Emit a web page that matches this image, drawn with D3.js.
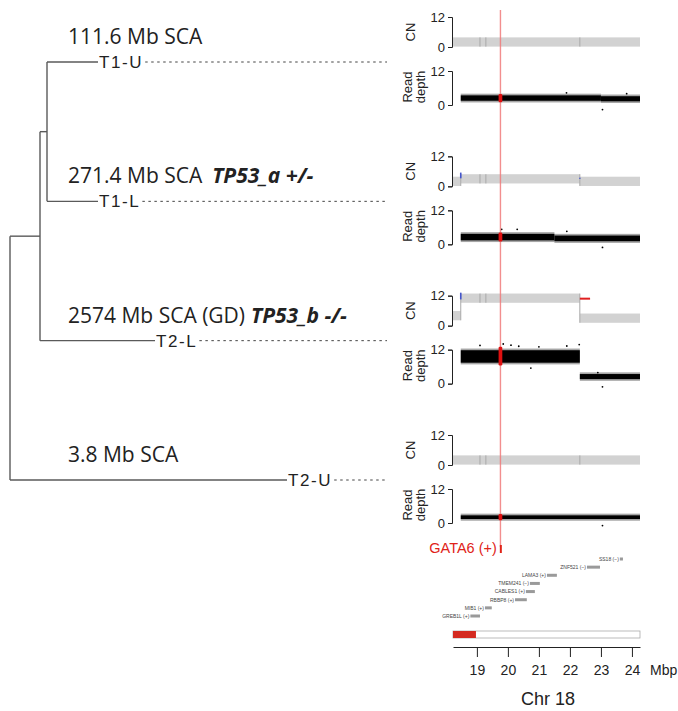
<!DOCTYPE html>
<html><head><meta charset="utf-8">
<script src="https://cdn.jsdelivr.net/npm/d3@7"></script>
<style>body{margin:0;background:#fff} svg{display:block}</style>
</head><body>
<svg id="c" width="678" height="711"></svg>
<script>
// ---------------- data ----------------
const samples = ["T1-U", "T1-L", "T2-L", "T2-U"];
const scaLabels = ["111.6 Mb SCA", "271.4 Mb SCA", "2574 Mb SCA (GD)", "3.8 Mb SCA"];
const tp53Labels = ["", "TP53_a +/-", "TP53_b -/-", ""];
// phylogeny with branch lengths
const tree = {name: "root", len: 0, children: [
  {name: "B", len: 30, children: [
    {name: "A", len: 7, children: [{name: "T1-U", len: 51}, {name: "T1-L", len: 51}]},
    {name: "T2-L", len: 115}]},
  {name: "T2-U", len: 277}]};

const genomeDomain = [18.23, 24.26];     // Mb shown
const axisTicks = [19, 20, 21, 22, 23, 24];
const cnTicks = [0, 12];
const rdTicks = [0, 12];
// copy-number segments per sample: [start, end, CN]
const cnSegments = [
  [[18.23, 19.10, 2], [19.10, 19.29, 2], [19.29, 22.32, 2], [22.32, 24.26, 2]],
  [[18.23, 18.48, 2], [18.48, 19.10, 3], [19.10, 19.29, 3], [19.29, 22.32, 3], [22.32, 24.26, 2]],
  [[18.23, 18.48, 4], [18.48, 19.10, 11], [19.10, 19.29, 11], [19.29, 22.32, 11], [22.32, 24.26, 3]],
  [[18.23, 19.10, 2], [19.10, 19.29, 2], [19.29, 22.32, 2], [22.32, 24.26, 2]]
];
// breakpoint marks: [sample, pos, cnLow, cnHigh, colour]
const cnMarksV = [[1, 18.48, 3.2, 5.5, "#4455cc"], [1, 22.32, 3.0, 3.4, "#4455cc"], [2, 18.48, 10.5, 13.2, "#4455cc"]];
const cnMarksH = [[2, 22.32, 22.65, 10.8, "#e02020"]];
// read depth bands: [start, end, low, high]
const rdBands = [
  [[18.48, 23.0, 1.5, 3.4], [23.0, 24.26, 1.3, 3.1]],
  [[18.48, 21.5, 1.4, 3.7], [21.5, 24.26, 1.1, 3.1]],
  [[18.48, 22.32, 7.4, 11.8], [22.32, 24.26, 1.6, 3.4]],
  [[18.48, 24.26, 1.4, 2.7]]
];
const rdOutliers = [
  [[21.89, 4.3], [23.83, 4.0], [23.05, -1.6]],
  [[19.80, 5.3], [20.30, 5.3], [21.90, 4.6], [23.05, -1.1]],
  [[19.10, 13.5], [19.85, 14.0], [20.10, 13.6], [20.35, 13.2], [21.00, 13.0], [21.90, 13.3], [22.30, 13.8], [20.74, 5.5], [23.05, -1.1], [22.90, 3.9]],
  [[23.05, -0.9]]
];
const gataPos = [19.74, 19.79];
const gataRDspan = [19.70, 19.82];
const rdGata = [[1.0, 3.9], [1.0, 4.2], [6.4, 13.0], [1.0, 3.2]];
const genes = [
  {name: "GREB1L (+)", start: 18.79, end: 19.10},
  {name: "MIB1 (+)", start: 19.26, end: 19.48},
  {name: "RBBP8 (+)", start: 20.23, end: 20.61},
  {name: "CABLES1 (+)", start: 20.58, end: 20.87},
  {name: "TMEM241 (−)", start: 20.71, end: 21.03},
  {name: "LAMA3 (+)", start: 21.26, end: 21.58},
  {name: "ZNF521 (−)", start: 22.55, end: 22.97},
  {name: "SS18 (−)", start: 23.61, end: 23.71}
];
const ideoHighlight = [18.23, 18.97];

// ---------------- drawing ----------------
const svg = d3.select("#c");
const SANS = "'Liberation Sans', Arial, sans-serif";
const TREEF = "'Open Sans', 'Noto Sans', sans-serif";

const x = d3.scaleLinear().domain(genomeDomain).range([453, 640]);
const panelY = d3.scalePoint().domain(samples).range([17, 435]);
const layerPanels = svg.append("g");
const layerLine = svg.append("g");
const layerRed = svg.append("g");

// red GATA6 guide line (above the CN bands)
layerLine.append("line").attr("x1", x(19.76)).attr("x2", x(19.76)).attr("y1", 10).attr("y2", 547)
  .attr("stroke", "#f07a7a").attr("stroke-opacity", 0.85).attr("stroke-width", 1.4);

samples.forEach((s, i) => {
  const T = panelY(s);
  const yCN = d3.scaleLinear().domain([0, 12]).range([T + 30, T]);
  const yRD = d3.scaleLinear().domain([0, 12]).range([T + 88, T + 54]);
  const g = layerPanels.append("g");

  // CN segments
  const segs = cnSegments[i];
  g.selectAll("rect.cn").data(segs).join("rect")
    .attr("x", d => x(d[0])).attr("width", d => x(d[1]) - x(d[0]))
    .attr("y", d => yCN(d[2] + 1.85)).attr("height", d => yCN(d[2] - 1.85) - yCN(d[2] + 1.85))
    .attr("fill", "#d2d2d2");
  segs.slice(1).forEach((d, k) => {
    const prev = segs[k];
    const lo = Math.min(prev[2], d[2]) - 1.85, hi = Math.max(prev[2], d[2]) + 1.85;
    g.append("line").attr("x1", x(d[0])).attr("x2", x(d[0]))
      .attr("y1", yCN(hi)).attr("y2", yCN(lo)).attr("stroke", "#a8a8a8").attr("stroke-width", 1);
  });
  cnMarksV.filter(m => m[0] === i).forEach(m => {
    g.append("line").attr("x1", x(m[1])).attr("x2", x(m[1])).attr("y1", yCN(m[3])).attr("y2", yCN(m[2]))
      .attr("stroke", m[4]).attr("stroke-width", 1.6);
  });
  cnMarksH.filter(m => m[0] === i).forEach(m => {
    g.append("line").attr("x1", x(m[1])).attr("x2", x(m[2])).attr("y1", yCN(m[3])).attr("y2", yCN(m[3]))
      .attr("stroke", m[4]).attr("stroke-width", 2);
  });

  // read depth: soft fringe + dense core
  g.selectAll("rect.rdf").data(rdBands[i]).join("rect")
    .attr("x", d => x(d[0])).attr("width", d => x(d[1]) - x(d[0]))
    .attr("y", d => yRD(d[3] + 0.6)).attr("height", d => yRD(d[2] - 0.6) - yRD(d[3] + 0.6))
    .attr("fill", "#000").attr("fill-opacity", 0.35);
  g.selectAll("rect.rd").data(rdBands[i]).join("rect")
    .attr("x", d => x(d[0])).attr("width", d => x(d[1]) - x(d[0]))
    .attr("y", d => yRD(d[3])).attr("height", d => yRD(d[2]) - yRD(d[3]))
    .attr("fill", "#000");
  g.selectAll("circle.o").data(rdOutliers[i]).join("circle")
    .attr("cx", d => x(d[0])).attr("cy", d => yRD(d[1])).attr("r", 0.9).attr("fill", "#000");
  layerRed.append("rect").attr("x", x(gataRDspan[0])).attr("width", x(gataRDspan[1]) - x(gataRDspan[0]))
    .attr("y", yRD(rdGata[i][1])).attr("height", yRD(rdGata[i][0]) - yRD(rdGata[i][1]))
    .attr("rx", 1.2).attr("fill", "#e01010");

  // axes (bracket style)
  const axCN = g.append("g").attr("transform", "translate(452,0)")
    .call(d3.axisLeft(yCN).tickValues(cnTicks).tickSize(4).tickPadding(3));
  const axRD = g.append("g").attr("transform", "translate(452,0)")
    .call(d3.axisLeft(yRD).tickValues(rdTicks).tickSize(4).tickPadding(3));
  [axCN, axRD].forEach(a => {
    a.selectAll("text").attr("font-family", SANS).attr("font-size", 13).attr("fill", "#222");
    a.select(".domain").attr("stroke", "#222");
    a.selectAll(".tick line").attr("stroke", "#222");
  });

  g.append("text").attr("transform", `translate(415,${T + 15}) rotate(-90)`)
    .attr("text-anchor", "middle").attr("font-family", SANS).attr("font-size", 13).attr("fill", "#222").text("CN");
  g.append("text").attr("transform", `translate(412,${T + 70}) rotate(-90)`)
    .attr("text-anchor", "middle").attr("font-family", SANS).attr("font-size", 13).attr("fill", "#222").text("Read");
  g.append("text").attr("transform", `translate(425,${T + 70}) rotate(-90)`)
    .attr("text-anchor", "middle").attr("font-family", SANS).attr("font-size", 13).attr("fill", "#222").text("depth");
});

// ---------------- tree ----------------
const root = d3.hierarchy(tree);
root.each(n => { n.dist = (n.parent ? n.parent.dist : 0) + n.data.len; });
const maxDist = d3.max(root.leaves(), l => l.dist);
const xt = d3.scaleLinear().domain([0, maxDist]).range([10, 287]);
root.eachAfter(n => {
  n.py = n.children ? (n.children[0].py + n.children[n.children.length - 1].py) / 2 : panelY(n.data.name) + 45;
});
const tg = svg.append("g").attr("stroke", "#5a5a5a").attr("stroke-width", 1.4).attr("fill", "none");
root.descendants().forEach(n => {
  if (n.children) {
    tg.append("line").attr("x1", xt(n.dist)).attr("x2", xt(n.dist))
      .attr("y1", n.children[0].py).attr("y2", n.children[n.children.length - 1].py);
  }
  if (n.parent) {
    tg.append("line").attr("x1", xt(n.parent.dist)).attr("x2", xt(n.dist)).attr("y1", n.py).attr("y2", n.py);
  }
});
root.leaves().forEach(l => {
  const i = samples.indexOf(l.data.name);
  const lx = xt(l.dist);
  const t = svg.append("text").attr("x", lx + 1).attr("y", l.py + 6)
    .attr("font-family", SANS).attr("font-size", 17).attr("letter-spacing", 1.6).attr("fill", "#222")
    .text(l.data.name);
  const w = t.node().getComputedTextLength();
  svg.append("line").attr("x1", lx + 3 + w).attr("x2", 387).attr("y1", l.py).attr("y2", l.py)
    .attr("stroke", "#444").attr("stroke-width", 1).attr("stroke-dasharray", "2.5,3.5");
  const h = svg.append("text").attr("x", 68).attr("y", l.py - 18)
    .attr("font-family", TREEF).attr("font-size", 21).attr("fill", "#222");
  h.append("tspan").text(scaLabels[i]);
  if (tp53Labels[i]) {
    h.append("tspan").attr("dx", i === 1 ? 10 : 6).attr("font-weight", "bold").attr("font-style", "italic")
      .text(tp53Labels[i]);
  }
});

// ---------------- gene track ----------------
svg.append("text").attr("x", x(gataPos[0]) - 3).attr("y", 553).attr("text-anchor", "end")
  .attr("font-family", SANS).attr("font-size", 14.5).attr("fill", "#e02318").text("GATA6 (+)");
svg.append("rect").attr("x", x(gataPos[0])).attr("width", Math.max(2, x(gataPos[1]) - x(gataPos[0])))
  .attr("y", 545).attr("height", 8).attr("fill", "#e02318");
const geneY = d3.scalePoint().domain(genes.map(d => d.name)).range([616, 559]);
genes.forEach(d => {
  const y = geneY(d.name);
  svg.append("rect").attr("x", x(d.start)).attr("width", x(d.end) - x(d.start))
    .attr("y", y - 1.5).attr("height", 3).attr("fill", "#9a9a9a");
  svg.append("text").attr("x", x(d.start) - 1).attr("y", y + 1.8).attr("text-anchor", "end")
    .attr("font-family", SANS).attr("font-size", 5).attr("fill", "#444").text(d.name);
});
// ideogram
svg.append("rect").attr("x", x(genomeDomain[0])).attr("width", x(genomeDomain[1]) - x(genomeDomain[0]))
  .attr("y", 631).attr("height", 7).attr("fill", "#fff").attr("stroke", "#aaa").attr("stroke-width", 0.8);
svg.append("rect").attr("x", x(ideoHighlight[0])).attr("width", x(ideoHighlight[1]) - x(ideoHighlight[0]))
  .attr("y", 631).attr("height", 7).attr("fill", "#d42a20");

// genomic axis
const ax = svg.append("g").attr("transform", "translate(0,647)")
  .call(d3.axisBottom(x).tickValues(axisTicks).tickSize(10).tickSizeOuter(0).tickPadding(8).tickFormat(d3.format("d")));
ax.selectAll("text").attr("font-family", SANS).attr("font-size", 14).attr("fill", "#222");
ax.select(".domain").attr("stroke", "#222");
ax.selectAll(".tick line").attr("stroke", "#222");
svg.append("text").attr("x", 650).attr("y", 675).attr("font-family", SANS).attr("font-size", 14)
  .attr("fill", "#222").text("Mbp");
svg.append("text").attr("x", 548).attr("y", 705).attr("text-anchor", "middle").attr("font-family", SANS)
  .attr("font-size", 18).attr("fill", "#222").text("Chr 18");
</script>
</body></html>
